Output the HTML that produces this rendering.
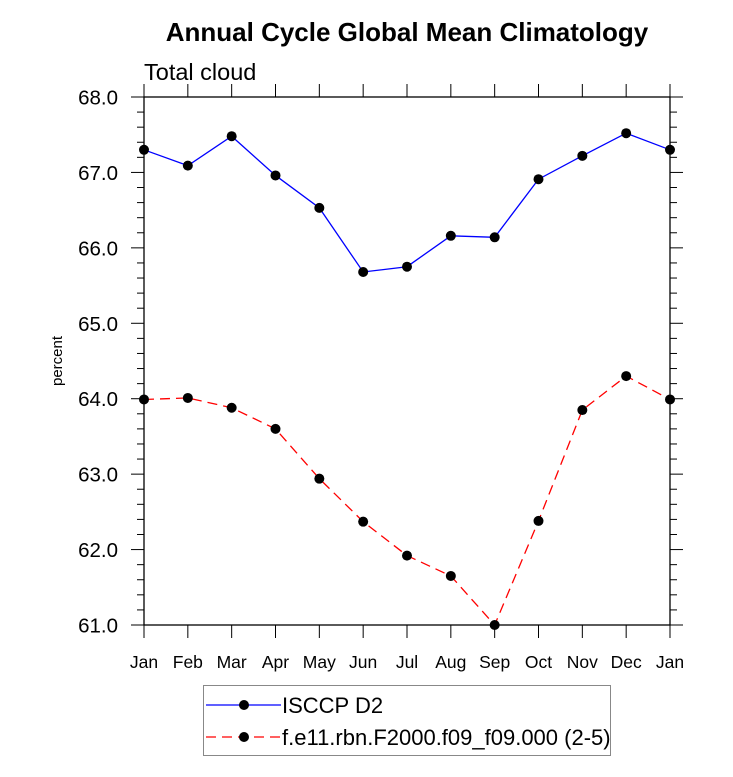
<!DOCTYPE html>
<html><head><meta charset="utf-8"><style>body{margin:0;background:#fff}svg{display:block;font-family:"Liberation Sans",sans-serif}</style></head>
<body>
<svg width="733" height="777" viewBox="0 0 733 777">
<text x="407" y="41" text-anchor="middle" font-size="26" font-weight="bold">Annual Cycle Global Mean Climatology</text>
<text x="144" y="80" font-size="23.5">Total cloud</text>
<text transform="translate(62,361) rotate(-90)" text-anchor="middle" font-size="15">percent</text>
<g id="axes"></g>
<g id="series"></g>
<g>
<rect x="203.5" y="685.5" width="407" height="70" fill="#fff" stroke="#888"/>
<g>
<line x1="206" y1="705" x2="281" y2="705" stroke="#00f" stroke-width="1.3"/>
<circle cx="244" cy="705" r="5"/>
<text x="282" y="713" font-size="22">ISCCP D2</text></g>
<g>
<line x1="206" y1="737" x2="281" y2="737" stroke="#f00" stroke-width="1.3" stroke-dasharray="10,6"/>
<circle cx="244" cy="737" r="5"/>
<text x="282" y="745" font-size="22">f.e11.rbn.F2000.f09_f09.000 (2-5)</text></g>
</g>
</svg>
<script>
const months=["Jan","Feb","Mar","Apr","May","Jun","Jul","Aug","Sep","Oct","Nov","Dec","Jan"];
const isccp=[67.30,67.09,67.48,66.96,66.53,65.68,65.75,66.16,66.14,66.91,67.22,67.52,67.30];
const model=[63.99,64.01,63.88,63.60,62.94,62.37,61.92,61.65,61.00,62.38,63.85,64.30,63.99];
const yTicks=["61.0","62.0","63.0","64.0","65.0","66.0","67.0","68.0"];
const L=144,R=670,T=97,B=625,ymin=61,ymax=68;
const NS="http://www.w3.org/2000/svg";
const X=i=>L+i*(R-L)/(months.length-1);
const Y=v=>B-(v-ymin)/(ymax-ymin)*(B-T);
function mk(t,a,p){const e=document.createElementNS(NS,t);for(const k in a)e.setAttribute(k,a[k]);p.appendChild(e);return e;}
const ax=document.getElementById('axes');
const fr=mk('rect',{x:L,y:T,width:R-L,height:B-T,fill:'none',stroke:'#000','stroke-width':1.3},ax);


months.forEach((m,i)=>{const x=X(i);
mk('line',{x1:x,y1:B,x2:x,y2:B+13,stroke:'#000'},ax);
mk('line',{x1:x,y1:T,x2:x,y2:T-13,stroke:'#000'},ax);
const t=mk('text',{x:x,y:668,'text-anchor':'middle','font-size':17.5},ax);t.textContent=m;

});
for(let v=ymin;v<=ymax+1e-9;v+=0.2){const y=Y(v);const maj=Math.abs(v-Math.round(v))<1e-6;const len=maj?13:7;
mk('line',{x1:L,y1:y,x2:L-len,y2:y,stroke:'#000'},ax);
mk('line',{x1:R,y1:y,x2:R+len,y2:y,stroke:'#000'},ax);}
yTicks.forEach(s=>{const t=mk('text',{x:118,y:Y(+s)+7.5,'text-anchor':'end','font-size':20.5},ax);t.textContent=s;

});
const sg=document.getElementById('series');
function series(d,col,dash,name){const g=mk('g',{},sg);


const pl=mk('polyline',{points:d.map((v,i)=>X(i)+','+Y(v)).join(' '),fill:'none',stroke:col,'stroke-width':1.3},g);
if(dash)pl.setAttribute('stroke-dasharray',dash);
d.forEach((v,i)=>{const c=mk('circle',{cx:X(i),cy:Y(v),r:5},g);

});}
series(isccp,'#00f',null,'isccp-series');
series(model,'#f00','10,6','model-series');
</script>
</body></html>
